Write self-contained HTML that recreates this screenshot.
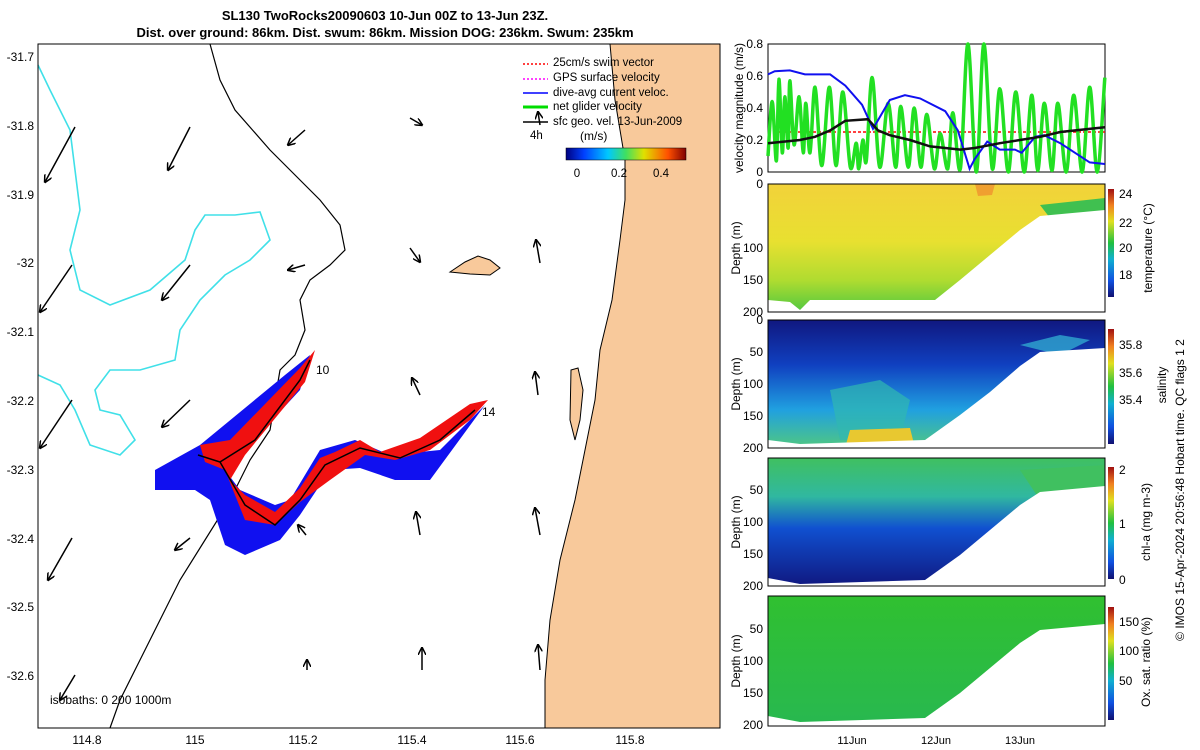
<!DOCTYPE html>
<html><head><meta charset="utf-8"><style>
body{margin:0;background:#fff;}
svg{display:block;font-family:"Liberation Sans",sans-serif;}
</style></head><body>
<svg width="1200" height="750" viewBox="0 0 1200 750" xmlns="http://www.w3.org/2000/svg">
<defs>
<linearGradient id="jetH" x1="0" x2="1" y1="0" y2="0">
<stop offset="0" stop-color="#000080"/><stop offset="0.15" stop-color="#0040ff"/><stop offset="0.35" stop-color="#00c8ff"/><stop offset="0.5" stop-color="#40e060"/><stop offset="0.65" stop-color="#e0e000"/><stop offset="0.85" stop-color="#ff5000"/><stop offset="1" stop-color="#800000"/></linearGradient>
<linearGradient id="jetV" x1="0" x2="0" y1="1" y2="0">
<stop offset="0" stop-color="#101070"/><stop offset="0.15" stop-color="#1050e0"/><stop offset="0.35" stop-color="#10b0d0"/><stop offset="0.5" stop-color="#20c040"/><stop offset="0.7" stop-color="#e0e020"/><stop offset="0.85" stop-color="#f08020"/><stop offset="1" stop-color="#a01010"/></linearGradient>
<linearGradient id="tempG" x1="0" x2="0" y1="0" y2="1"><stop offset="0" stop-color="#f2d23a"/><stop offset="0.45" stop-color="#e8e030"/><stop offset="0.75" stop-color="#b0dc30"/><stop offset="1" stop-color="#50c840"/></linearGradient>
<linearGradient id="salG" x1="0" x2="0" y1="0" y2="1"><stop offset="0" stop-color="#101880"/><stop offset="0.35" stop-color="#1040c0"/><stop offset="0.7" stop-color="#20a0e0"/><stop offset="1" stop-color="#50c880"/></linearGradient>
<linearGradient id="chlG" x1="0" x2="0" y1="0" y2="1"><stop offset="0" stop-color="#40c060"/><stop offset="0.3" stop-color="#30b8a0"/><stop offset="0.55" stop-color="#1050d0"/><stop offset="1" stop-color="#101880"/></linearGradient>
<linearGradient id="oxG" x1="0" x2="0" y1="0" y2="1"><stop offset="0" stop-color="#30c030"/><stop offset="1" stop-color="#28b850"/></linearGradient>
<marker id="ah" markerWidth="8" markerHeight="8" refX="7" refY="4" orient="auto" markerUnits="userSpaceOnUse"><path d="M0,0 L8,4 L0,8" fill="none" stroke="#000" stroke-width="1.5"/></marker>
</defs>

<text x="385" y="20" font-size="13" font-weight="bold" text-anchor="middle">SL130 TwoRocks20090603 10-Jun 00Z to 13-Jun 23Z.</text>
<text x="385" y="37" font-size="13" font-weight="bold" text-anchor="middle">Dist. over ground: 86km. Dist. swum: 86km. Mission DOG: 236km. Swum: 235km</text>

<g>
<rect x="38" y="44" width="682" height="684" fill="#fff"/>
<path d="M610,44 L615,100 L625,160 L625,200 L620,240 L612,300 L600,350 L595,400 L585,450 L575,500 L560,560 L550,620 L545,680 L545,728 L720,728 L720,44 Z" fill="#f8c99b" stroke="#000" stroke-width="1"/>
<path d="M450,272 L465,262 L478,256 L490,260 L500,268 L490,275 L470,274 Z" fill="#f8c99b" stroke="#000" stroke-width="1"/>
<path d="M571,370 L578,368 L583,390 L580,420 L575,440 L570,420 Z" fill="#f8c99b" stroke="#000" stroke-width="1"/>
<path d="M210,44 L220,80 L235,110 L270,150 L300,180 L320,200 L340,225 L345,250 L330,265 L310,280 L300,300 L305,330 L295,355 L280,370 L275,400 L270,430 L250,460 L230,500 L205,540 L180,580 L160,620 L140,660 L120,700 L110,728" fill="none" stroke="#000" stroke-width="1.2"/>
<path d="M38,65 L50,90 L70,130 L75,170 L80,210 L70,250 L80,290 L110,305 L150,290 L185,260 L195,230 L205,215 L235,215 L260,212 L270,240 L250,260 L225,275 L200,300 L180,330 L175,360 L140,370 L110,370 L95,390 L100,410 L120,415 L135,440 L120,455 L90,445 L75,410 L60,385 L38,375" fill="none" stroke="#40e0e8" stroke-width="1.6"/>
<g stroke="#000" stroke-width="1.5" marker-end="url(#ah)">
<line x1="75" y1="127" x2="45" y2="182"/><line x1="190" y1="127" x2="168" y2="170"/><line x1="305" y1="130" x2="288" y2="145"/><line x1="410" y1="118" x2="422" y2="125"/><line x1="540" y1="125" x2="538" y2="112"/>
<line x1="72" y1="265" x2="40" y2="312"/><line x1="190" y1="265" x2="162" y2="300"/><line x1="305" y1="265" x2="288" y2="270"/><line x1="410" y1="248" x2="420" y2="262"/><line x1="540" y1="263" x2="536" y2="240"/>
<line x1="72" y1="400" x2="40" y2="448"/><line x1="190" y1="400" x2="162" y2="427"/><line x1="420" y1="395" x2="412" y2="378"/><line x1="538" y1="395" x2="535" y2="372"/>
<line x1="72" y1="538" x2="48" y2="580"/><line x1="190" y1="538" x2="175" y2="550"/><line x1="306" y1="535" x2="298" y2="525"/><line x1="420" y1="535" x2="416" y2="512"/><line x1="540" y1="535" x2="535" y2="508"/>
<line x1="75" y1="675" x2="60" y2="700"/><line x1="307" y1="670" x2="307" y2="660"/><line x1="422" y1="670" x2="422" y2="648"/><line x1="540" y1="670" x2="538" y2="645"/>
</g>
<path d="M155,470 L200,445 L285,375 L310,355 L300,390 L240,455 L225,470 L240,490 L275,505 L290,500 L320,450 L355,440 L390,455 L440,450 L480,410 L485,405 L430,480 L395,480 L360,468 L330,470 L300,515 L280,540 L245,555 L225,545 L210,500 L195,490 L155,490 Z" fill="#1010f0"/>
<path d="M200,445 L230,440 L300,368 L315,350 L305,382 L245,455 L230,480 L245,495 L275,512 L300,488 L320,458 L335,452 L360,440 L380,452 L420,438 L470,404 L488,400 L470,420 L430,450 L395,460 L365,455 L330,480 L300,502 L275,525 L245,520 L225,470 L205,462 Z" fill="#f01010"/>
<path d="M198,455 L220,462 L245,505 L275,525 L300,500 L325,465 L360,448 L400,458 L440,440 L475,410 M220,462 L255,440 L300,380 L310,360" fill="none" stroke="#000" stroke-width="1.5"/>
<text x="316" y="374" font-size="12">10</text>
<text x="482" y="416" font-size="12">14</text>
<text x="50" y="704" font-size="12">isobaths: 0   200  1000m</text>
<g font-size="11.5">
<line x1="523" y1="64" x2="548" y2="64" stroke="#f00" stroke-dasharray="2,2" stroke-width="1.5"/><text x="553" y="66">25cm/s swim vector</text>
<line x1="523" y1="79" x2="548" y2="79" stroke="#f0f" stroke-dasharray="2,2" stroke-width="1.5"/><text x="553" y="81">GPS surface velocity</text>
<line x1="523" y1="93" x2="548" y2="93" stroke="#00f" stroke-width="1.5"/><text x="553" y="96">dive-avg current veloc.</text>
<line x1="523" y1="107" x2="548" y2="107" stroke="#0d0" stroke-width="3"/><text x="553" y="110">net glider velocity</text>
<line x1="523" y1="122" x2="548" y2="122" stroke="#000" stroke-width="1.5"/><text x="553" y="125">sfc geo. vel. 13-Jun-2009</text>
<text x="530" y="139">4h</text>
<text x="580" y="140" font-size="12">(m/s)</text>
<rect x="566" y="148" width="120" height="12" fill="url(#jetH)" stroke="#000" stroke-width="0.5"/>
<text x="577" y="177" text-anchor="middle">0</text><text x="619" y="177" text-anchor="middle">0.2</text><text x="661" y="177" text-anchor="middle">0.4</text>
</g>
<rect x="38" y="44" width="682" height="684" fill="none" stroke="#000" stroke-width="1"/>
<g font-size="12">
<text x="34" y="61" text-anchor="end">-31.7</text><text x="34" y="130" text-anchor="end">-31.8</text><text x="34" y="199" text-anchor="end">-31.9</text><text x="34" y="267" text-anchor="end">-32</text><text x="34" y="336" text-anchor="end">-32.1</text><text x="34" y="405" text-anchor="end">-32.2</text><text x="34" y="474" text-anchor="end">-32.3</text><text x="34" y="543" text-anchor="end">-32.4</text><text x="34" y="611" text-anchor="end">-32.5</text><text x="34" y="680" text-anchor="end">-32.6</text>
</g>
<g font-size="12" text-anchor="middle">
<text x="87" y="744">114.8</text><text x="195" y="744">115</text><text x="303" y="744">115.2</text><text x="412" y="744">115.4</text><text x="520" y="744">115.6</text><text x="630" y="744">115.8</text>
</g>
</g>

<g id="velPanel">
<rect x="768" y="44" width="337" height="128" fill="#fff" stroke="#000"/>
<g font-size="12" text-anchor="end">
<text x="763" y="48">0.8</text><text x="763" y="80">0.6</text><text x="763" y="112">0.4</text><text x="763" y="144">0.2</text><text x="763" y="176">0</text>
</g>
<text transform="translate(743,108) rotate(-90)" font-size="12" text-anchor="middle">velocity magnitude (m/s)</text>
</g>

<g>
<rect x="768" y="184" width="337" height="128" fill="url(#tempG)"/>
<path d="M975,184 L995,184 L992,195 L978,196 Z" fill="#f0a030"/>
<path d="M1040,205 L1105,198 L1105,212 L1050,218 Z" fill="#40c050"/>
<path d="M768,312 L768,300 L790,302 L800,310 L810,300 L925,300 L935,300 L960,280 L990,255 L1020,230 L1040,216 L1105,210 L1105,312 Z" fill="#fff"/>
<rect x="768" y="184" width="337" height="128" fill="none" stroke="#000"/>
</g>
<g>
<rect x="768" y="320" width="337" height="128" fill="url(#salG)"/>
<path d="M830,390 L880,380 L910,400 L900,440 L840,440 Z" fill="#30b8b0" opacity="0.7"/>
<path d="M850,430 L910,428 L915,448 L845,448 Z" fill="#e8c830"/>
<path d="M1020,345 L1060,335 L1090,340 L1060,355 Z" fill="#30a8d0" opacity="0.8"/>
<path d="M768,448 L768,440 L800,444 L925,440 L960,415 L990,392 L1020,366 L1040,352 L1105,348 L1105,448 Z" fill="#fff"/>
<rect x="768" y="320" width="337" height="128" fill="none" stroke="#000"/>
</g>
<g>
<rect x="768" y="458" width="337" height="128" fill="url(#chlG)"/>
<path d="M1020,470 L1105,465 L1105,490 L1040,500 Z" fill="#40c060"/>
<path d="M768,586 L768,578 L800,584 L925,580 L960,555 L990,530 L1020,505 L1040,492 L1105,486 L1105,586 Z" fill="#fff"/>
<rect x="768" y="458" width="337" height="128" fill="none" stroke="#000"/>
</g>
<g>
<rect x="768" y="596" width="337" height="130" fill="url(#oxG)"/>
<path d="M768,726 L768,716 L800,722 L925,718 L960,693 L990,668 L1020,643 L1040,630 L1105,624 L1105,726 Z" fill="#fff"/>
<rect x="768" y="596" width="337" height="130" fill="none" stroke="#000"/>
</g>
<g font-size="12" text-anchor="end">
<text x="763" y="188">0</text><text x="763" y="252">100</text><text x="763" y="284">150</text><text x="763" y="316">200</text>
<text x="763" y="324">0</text><text x="763" y="356">50</text><text x="763" y="388">100</text><text x="763" y="420">150</text><text x="763" y="452">200</text>
<text x="763" y="494">50</text><text x="763" y="526">100</text><text x="763" y="558">150</text><text x="763" y="590">200</text>
<text x="763" y="633">50</text><text x="763" y="665">100</text><text x="763" y="697">150</text><text x="763" y="729">200</text>
</g>
<g font-size="12" text-anchor="middle">
<text transform="translate(740,248) rotate(-90)">Depth (m)</text>
<text transform="translate(740,384) rotate(-90)">Depth (m)</text>
<text transform="translate(740,522) rotate(-90)">Depth (m)</text>
<text transform="translate(740,661) rotate(-90)">Depth (m)</text>
</g>
<g font-size="11" text-anchor="middle">
<text x="852" y="744">11Jun</text><text x="936" y="744">12Jun</text><text x="1020" y="744">13Jun</text>
</g>
<g>
<rect x="1108" y="189" width="6" height="108" fill="url(#jetV)"/>
<rect x="1108" y="329" width="6" height="115" fill="url(#jetV)"/>
<rect x="1108" y="467" width="6" height="112" fill="url(#jetV)"/>
<rect x="1108" y="607" width="6" height="113" fill="url(#jetV)"/>
<g font-size="12">
<text x="1119" y="198">24</text><text x="1119" y="227">22</text><text x="1119" y="252">20</text><text x="1119" y="279">18</text>
<text x="1119" y="349">35.8</text><text x="1119" y="377">35.6</text><text x="1119" y="404">35.4</text>
<text x="1119" y="474">2</text><text x="1119" y="528">1</text><text x="1119" y="584">0</text>
<text x="1119" y="626">150</text><text x="1119" y="655">100</text><text x="1119" y="685">50</text>
</g>
<g font-size="12" text-anchor="middle">
<text transform="translate(1152,248) rotate(-90)">temperature (°C)</text>
<text transform="translate(1166,385) rotate(-90)">salinity</text>
<text transform="translate(1150,522) rotate(-90)">chl-a (mg m-3)</text>
<text transform="translate(1150,662) rotate(-90)">Ox. sat. ratio (%)</text>
<text transform="translate(1184,490) rotate(-90)">© IMOS 15-Apr-2024 20:56:48 Hobart time. QC flags 1  2</text>
</g>
</g>
</svg>
<script>
const greenT=[0,0.05,0.1,0.13,0.17,0.2,0.24,0.26,0.31,0.37,0.42,0.45,0.5,0.56,0.64,0.73,0.81,0.89,0.98,1.05,1.08,1.13,1.17,1.24,1.33,1.43,1.52,1.58,1.67,1.74,1.82,1.89,1.98,2.05,2.14,2.2,2.29,2.38,2.48,2.57,2.67,2.76,2.86,2.95,3.05,3.14,3.21,3.29,3.38,3.45,3.55,3.64,3.74,3.83,3.92,4.01];
const greenV=[0.1,0.44,0.07,0.58,0.12,0.47,0.15,0.57,0.17,0.47,0.12,0.43,0.12,0.53,0.04,0.53,0.04,0.5,0.03,0.18,0.02,0.2,0.07,0.59,0.03,0.43,0.03,0.41,0.03,0.4,0.03,0.36,0.02,0.24,0.02,0.37,0.02,0.85,0.0,0.85,0.02,0.52,0.0,0.5,0.0,0.48,0.01,0.43,0.01,0.43,0.0,0.48,0.0,0.53,0.0,0.59];
const blueT=[0,0.08,0.26,0.44,0.74,0.92,1.12,1.25,1.45,1.63,1.81,2.11,2.26,2.4,2.46,2.61,2.76,2.94,3.02,3.18,3.29,3.48,3.83,4.01];
const blueV=[0.61,0.63,0.635,0.61,0.61,0.54,0.42,0.27,0.45,0.48,0.46,0.38,0.26,0.02,0.08,0.19,0.14,0.14,0.12,0.22,0.23,0.18,0.06,0.05];
const blackT=[0,0.38,0.56,0.74,0.92,1.19,1.31,1.45,1.69,1.93,2.29,2.46,2.76,3.0,3.24,3.48,4.01];
const blackV=[0.18,0.2,0.22,0.26,0.32,0.33,0.26,0.23,0.2,0.16,0.14,0.15,0.18,0.2,0.22,0.25,0.28];
const swimSpeed=[0.25];
const X=t=>768+t*84, Y=v=>Math.max(44,172-v*160);
const NS="http://www.w3.org/2000/svg";
const g=document.getElementById('velPanel');
function smooth(ts,vs){let d=`M${X(ts[0])},${Y(vs[0])}`;for(let i=0;i<ts.length-1;i++){const p0=i?i-1:i,p3=i+2<ts.length?i+2:i+1;const x1=X(ts[i])+(X(ts[i+1])-X(ts[p0]))/6,y1=Y(vs[i])+(Y(vs[i+1])-Y(vs[p0]))/6,x2=X(ts[i+1])-(X(ts[p3])-X(ts[i]))/6,y2=Y(vs[i+1])-(Y(vs[p3])-Y(vs[i]))/6;d+=` C${x1},${y1} ${x2},${y2} ${X(ts[i+1])},${Y(vs[i+1])}`;}return d;}
function line(ts,vs,col,w,name,sm){const p=document.createElementNS(NS,'path');p.setAttribute('d',sm?smooth(ts,vs):ts.map((t,i)=>(i?'L':'M')+X(t)+','+Y(vs[i])).join(' '));p.setAttribute('fill','none');p.setAttribute('stroke',col);p.setAttribute('stroke-width',w);


g.appendChild(p);}
const red=document.createElementNS(NS,'line');red.setAttribute('x1',768);red.setAttribute('x2',1105);red.setAttribute('y1',Y(swimSpeed[0]));red.setAttribute('y2',Y(swimSpeed[0]));red.setAttribute('stroke','#f00');red.setAttribute('stroke-dasharray','3,2');red.setAttribute('stroke-width','1.5');


g.appendChild(red);
line(greenT,greenV,'#22e022',3.5,'net-glider-velocity-line',true);
line(blueT,blueV,'#1010f0',2,'dive-avg-current-line',false);
line(blackT,blackV,'#111',2.5,'geostrophic-velocity-line',false);
</script>
</body></html>
